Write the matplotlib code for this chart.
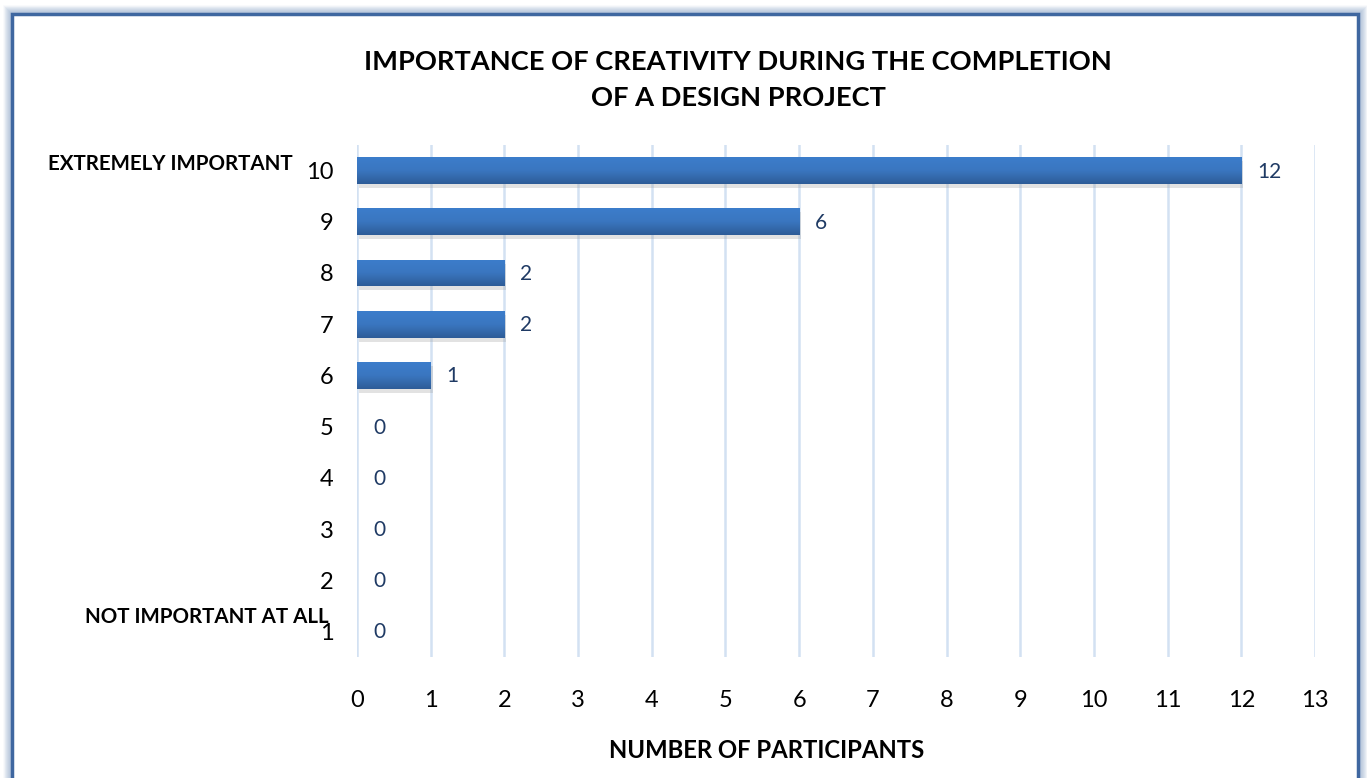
import numpy as np
import matplotlib
matplotlib.use("Agg")
from matplotlib import pyplot as plt
from matplotlib.patches import Rectangle
import matplotlib.transforms as mtransforms

# data
ratings = [1, 2, 3, 4, 5, 6, 7, 8, 9, 10]
participants = [0, 0, 0, 0, 0, 1, 2, 2, 6, 12]
x_ticks = list(range(0, 14))
title = "IMPORTANCE OF CREATIVITY DURING THE COMPLETION\nOF A DESIGN PROJECT"
x_label = "NUMBER OF PARTICIPANTS"
top_note = "EXTREMELY IMPORTANT"
bottom_note = "NOT IMPORTANT AT ALL"

plt.rcParams['font.family'] = ['Lato', 'DejaVu Sans']

W, H = 1367, 778
fig = plt.figure(figsize=(W / 100, H / 100), dpi=100)
fig.patch.set_facecolor("white")

# frame with soft shadow around the chart area
for i, a in enumerate(np.linspace(0.05, 0.35, 8)):
    off = 8 - i
    fig.patches.append(Rectangle(((12 - off) / W, -0.1), (1346 + 2 * off) / W, (764 + off) / H + 0.1,
                                 transform=fig.transFigure, fill=False,
                                 edgecolor="#8FA8C8", alpha=a, lw=2, zorder=0))
fig.patches.append(Rectangle((12 / W, -0.1), 1346 / W, 764 / H + 0.1,
                             transform=fig.transFigure, fill=False,
                             edgecolor="#3F67A0", lw=2.5, zorder=1))

ax = fig.add_axes([357 / W, 1 - 657 / H, (1315 - 357) / W, (657 - 145) / H])
ax.set_xlim(0, 13)
ax.set_ylim(0.5, 10.5)

bar_h = 0.52
# shadow under the bars
shadow = mtransforms.offset_copy(ax.transData, fig=fig, x=2, y=-4, units='dots')
ax.barh(ratings, participants, height=bar_h, color="#A0A0A0", alpha=0.3,
        transform=shadow, zorder=2)

# gradient filled bars
grad = np.linspace(0, 1, 64).reshape(-1, 1)
cmap = matplotlib.colors.LinearSegmentedColormap.from_list(
    "barblue", ["#3C7DCB", "#3A76C0", "#2D5C98"])
bars = ax.barh(ratings, participants, height=bar_h, color="#3A76C0", zorder=3)
for b, v in zip(bars, participants):
    if v <= 0:
        continue
    y0 = b.get_y()
    im = ax.imshow(grad, extent=[0, v, y0, y0 + bar_h], aspect='auto',
                   cmap=cmap, origin='upper', zorder=4)
    im.set_clip_path(b)

for r, v in zip(ratings, participants):
    ax.annotate(str(v), (v, r), xytext=(16, -1), textcoords='offset pixels',
                va='center', ha='left', fontsize=15, color="#1F3A64", zorder=5)

ax.set_xticks(x_ticks)
ax.set_yticks(ratings)
ax.set_yticklabels([str(r) for r in ratings])
ax.tick_params(axis='both', length=0, labelsize=17, colors="black")
ax.tick_params(axis='y', pad=17)
ax.tick_params(axis='x', pad=24)
for s in ax.spines.values():
    s.set_visible(False)
ax.grid(axis='x', color="#D3E1F2", lw=1.8, zorder=0)
ax.set_axisbelow(True)

fig.text(738 / W, 1 - 80 / H, title, ha='center', va='center', fontsize=19.6,
         fontweight='bold', linespacing=1.6)
fig.text(767 / W, 1 - 750 / H, x_label, ha='center', va='center', fontsize=17.2,
         fontweight='bold')
fig.text(48 / W, 1 - 164 / H, top_note, ha='left', va='center', fontsize=14.8,
         fontweight='bold')
fig.text(85 / W, 1 - 617 / H, bottom_note, ha='left', va='center', fontsize=14.8,
         fontweight='bold')

fig.savefig("out.png", dpi=100)
